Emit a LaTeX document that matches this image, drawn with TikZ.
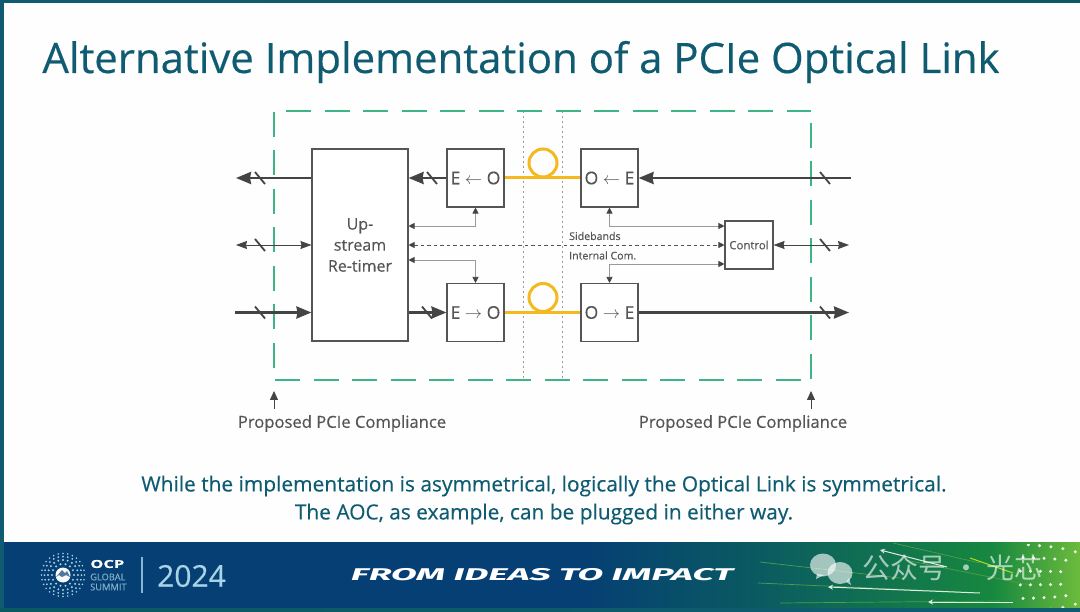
\documentclass[tikz,border=0pt]{standalone}
\usepackage{fontspec}
\setmainfont[RawFeature={embolden=0.35}]{Open Sans}
\newfontfamily\cjkfont{Noto Sans CJK SC}
\newfontfamily\bannerfont{Fira Sans}
\usetikzlibrary{arrows.meta,calc,positioning}
\definecolor{slidebg}{HTML}{FDFEFD}
\definecolor{titleteal}{HTML}{0F5C72}
\definecolor{linedark}{HTML}{444444}
\definecolor{linethin}{HTML}{9A9A9A}
\definecolor{boxgray}{HTML}{555555}
\definecolor{framegreen}{HTML}{3DB584}
\definecolor{fibre}{HTML}{F4B91E}
\definecolor{bandblue}{HTML}{063F73}
\definecolor{bandteal}{HTML}{0A5A62}
\definecolor{bandgreen}{HTML}{17883F}
\definecolor{bandlight}{HTML}{6DBB3C}
\definecolor{stripgreen}{HTML}{4F8F50}
\definecolor{logoblue}{HTML}{A9D3E6}
\pgfdeclarehorizontalshading{bandshade}{100bp}{
  color(0bp)=(bandblue); color(52bp)=(bandblue); color(60bp)=(bandteal);
  color(71bp)=(bandgreen); color(75bp)=(bandlight); color(100bp)=(bandlight)}
\tikzset{
  blockbox/.style={draw=boxgray,line width=1.1pt,fill=white,inner sep=0pt,text=boxgray},
  conv/.style={blockbox,minimum width=57,minimum height=58,font=\fontsize{17.5}{18}\selectfont},
  bus/.style={draw=linedark,line width=2.6pt},
  busone/.style={bus,-{Stealth[length=15pt,width=12pt,inset=1pt]}},
  thinline/.style={draw=linedark,line width=.8pt,{Stealth[length=11pt,width=8pt,inset=1pt]}-{Stealth[length=11pt,width=8pt,inset=1pt]}},
  sideband/.style={draw=linethin,line width=.8pt,{Stealth[length=6pt,width=6pt,inset=0pt,linedark]}-{Stealth[length=6pt,width=6pt,inset=0pt,linedark]}},
  framedash/.style={draw=framegreen,line width=1.9pt,dash pattern=on 25pt off 13.5pt},
  guide/.style={draw=linethin,line width=.8pt,dash pattern=on 2pt off 3pt},
  fibreline/.style={draw=fibre,line width=3pt},
  caption/.style={text=titleteal,font=\fontsize{20.9}{28}\selectfont,align=center},
  complabel/.style={text=boxgray,font=\fontsize{16.6}{17}\selectfont},
  smalllabel/.style={text=boxgray,font=\fontsize{10.6}{11}\selectfont,anchor=west,inner sep=0pt},
  markgray/.style={fill=white,opacity=.62}
}
\begin{document}
\begin{tikzpicture}[x=1pt,y=-1pt]
  \useasboundingbox (0,0) rectangle (1080,612);
  % slide and banner
  \fill[slidebg] (0,0) rectangle (1080,612);
  \shade[left color=titleteal,middle color=stripgreen,right color=bandteal] (0,0) rectangle (1080,3);
  \shade[shading=bandshade] (0,542) rectangle (1080,608);
  \shade[left color=bandteal,middle color=stripgreen,right color=titleteal] (0,608) rectangle (1080,612);
  \fill[titleteal] (0,0) rectangle (4,608);
  \foreach \xa/\ya/\xb/\yb in {893/543/980/563,905/560/1030/585,760/562/900/578,758/583/960/592,780/603/1000/601}
    \draw[bandlight!70!bandteal,line width=.7pt] (\xa,\ya) -- (\xb,\yb);
  \draw[bandlight!50!yellow,line width=1pt] (970,558) -- (1013,573);
  \foreach \xa/\ya/\xb/\yb in {880/550/947/567,828/587/980/593,928/602/1013/602}
    \draw[white!85!bandgreen,line width=1pt,{Stealth[length=5pt,width=5pt]}-] (\xa,\ya) -- (\xb,\yb);
  \begin{scope}
    \clip (1000,544) rectangle (1080,607);
    \foreach \r/\n in {30/7,40/9,50/11,60/13,70/15}
      \foreach \i in {1,...,\n}
        \fill[white!85!bandlight] ($(1090,578)+(95+\i*170/\n:\r)$) circle[radius=1.7];
  \end{scope}
  % title
  \node (title) at (521,62) {\textcolor{titleteal}{\fontsize{41.9}{44}\selectfont Alternative Implementation of a PCIe Optical Link}};
  % frame
  \coordinate (ftl) at (274,111);
  \coordinate (ftr) at (811,111);
  \coordinate (fbl) at (274,380);
  \coordinate (fbr) at (811,380);
  \draw[guide] (523.5,111) -- (523.5,380);
  \draw[guide] (562,111) -- (562,380);
  \draw[framedash] ($(ftl)+(12,0)$) -- (ftr);
  \draw[framedash] ($(ftr)+(0,12)$) -- (fbr);
  \draw[framedash] ($(fbl)+(1,0)$) -- ($(fbr)+(-10,0)$);
  \draw[framedash] ($(ftl)+(0,1)$) -- ($(fbl)+(0,-12)$);
  % blocks
  \node[blockbox,minimum width=96,minimum height=192,align=center,font=\fontsize{16}{21}\selectfont] (retimer) at (360,245) {Up-\\stream\\Re-timer};
  \node[conv] (eo) at (475.5,178) {E $\leftarrow$ O};
  \node[conv] (etoo) at (475.5,312.5) {E $\rightarrow$ O};
  \node[conv] (oe) at (609.5,178) {O $\leftarrow$ E};
  \node[conv] (otoe) at (609.5,312.5) {O $\rightarrow$ E};
  \node[blockbox,minimum width=48,minimum height=48,font=\fontsize{11.4}{11}\selectfont] (control) at (749,245) {Control};
  % fibres
  \draw[fibreline] (eo.east) -- (oe.west);
  \draw[fibreline] (etoo.east) -- (otoe.west);
  \draw[fibreline] (543,163) circle[radius=14];
  \draw[fibreline] (543,297.5) circle[radius=14];
  % busses
  \coordinate (lefttop) at (236,178);
  \coordinate (leftmid) at (236,245);
  \coordinate (leftbot) at (235,312.5);
  \coordinate (righttop) at (851,178);
  \coordinate (rightmid) at (849,245);
  \coordinate (rightbot) at (849,312.5);
  \draw[busone] (retimer.west |- lefttop) -- (lefttop);
  \draw[busone] (eo.west) -- (eo.west -| retimer.east);
  \draw[busone] (leftbot) -- (retimer.west |- leftbot);
  \draw[busone] (retimer.east |- etoo.west) -- (etoo.west);
  \draw[busone] (righttop) -- (oe.east);
  \draw[busone] (otoe.east) -- (rightbot);
  \draw[thinline] (leftmid) -- (retimer.west);
  \draw[thinline] (control.east) -- (rightmid);
  \foreach \sx/\sy in {260/178,432/178,260/245,260/312.5,427/312.5,825/178,825/245,825/312.5}
    \draw[linedark,line width=1.8pt] (\sx-5,\sy-6) -- (\sx+5,\sy+6);
  % sidebands
  \coordinate (sbup) at (408,226);
  \coordinate (sbdown) at (408,260);
  \coordinate (ctup) at (725,226);
  \coordinate (ctdown) at (725,264);
  \draw[sideband] (sbup -| retimer.east) -| (eo.south);
  \draw[sideband] (sbdown -| retimer.east) -| (etoo.north);
  \draw[sideband] (ctup -| control.west) -| (oe.south);
  \draw[sideband] (ctdown -| control.west) -| (otoe.north);
  \draw[sideband,draw=boxgray,dash pattern=on 3.5pt off 3pt] (retimer.east) -- (control.west);
  \node[smalllabel] (sidebands) at (569,236) {Sidebands};
  \node[smalllabel] (internal) at (569,255.5) {Internal Com.};
  % compliance
  \node[complabel] (compleft) at (342,423.5) {Proposed PCIe Compliance};
  \node[complabel] (compright) at (743,423.5) {Proposed PCIe Compliance};
  \draw[linedark,line width=.8pt,-{Stealth[length=9pt,width=8pt,inset=0pt]}] (274,409) -- (274,391);
  \draw[linedark,line width=.8pt,-{Stealth[length=9pt,width=8pt,inset=0pt]}] (811,409) -- (811,391);
  % caption
  \node[caption] (note) at (544,500) {While the implementation is asymmetrical, logically the Optical Link is symmetrical.\\The AOC, as example, can be plugged in either way.};
  % logo
  \foreach \r/\n/\s in {11/14/1.1,15/20/1.1,18.5/24/1,21.5/28/.9}
    \foreach \i in {1,...,\n}
      \fill[logoblue] ($(63,575)+(\i*360/\n:\r)$) circle[radius=\s];
  \fill[white!92!logoblue] (63,575) circle[radius=7.5];
  \fill[bandblue!70!white] (56,577) -- (62,570) -- (65,573) -- (67,571) -- (70,577) -- (66,575) -- (62,577) -- (59,575) -- cycle;
  \node[text=white,font=\fontsize{11}{10}\bfseries\selectfont,anchor=west,inner sep=0pt,xscale=1.5] (ocp) at (90,564) {OCP};
  \node[text=logoblue!75!bandblue,font=\fontsize{9.3}{10}\selectfont,anchor=west,inner sep=0pt] (glob) at (90,577) {GLOBAL};
  \node[text=logoblue!75!bandblue,font=\fontsize{9.3}{10}\selectfont,anchor=west,inner sep=0pt] (summit) at (90,587) {SUMMIT};
  \draw[logoblue!80!bandblue,line width=1.2pt] (142,557) -- (142,593);
  \node[text=logoblue,font=\fontsize{30}{30}\selectfont,anchor=west,inner sep=0pt] (year) at (157,576) {2024};
  \node[text=white,font=\bannerfont\fontsize{17}{17}\bfseries\itshape\selectfont,anchor=center,inner sep=0pt,xscale=2.2] (motto) at (542,575) {FROM IDEAS TO IMPACT};
  % watermark
  \fill[markgray] (823,565) ellipse[x radius=13,y radius=11.5];
  \fill[markgray] (817,574) -- (816,579) -- (824,575) -- cycle;
  \fill[markgray] (840,573) ellipse[x radius=12.5,y radius=11];
  \fill[markgray] (846,582) -- (851,585) -- (849,578) -- cycle;
  \node[text=white,opacity=.62,font=\cjkfont\fontsize{28}{28}\selectfont,anchor=west,inner sep=0pt] (mark) at (862,568) {公众号 · 光芯};
\end{tikzpicture}
\end{document}
